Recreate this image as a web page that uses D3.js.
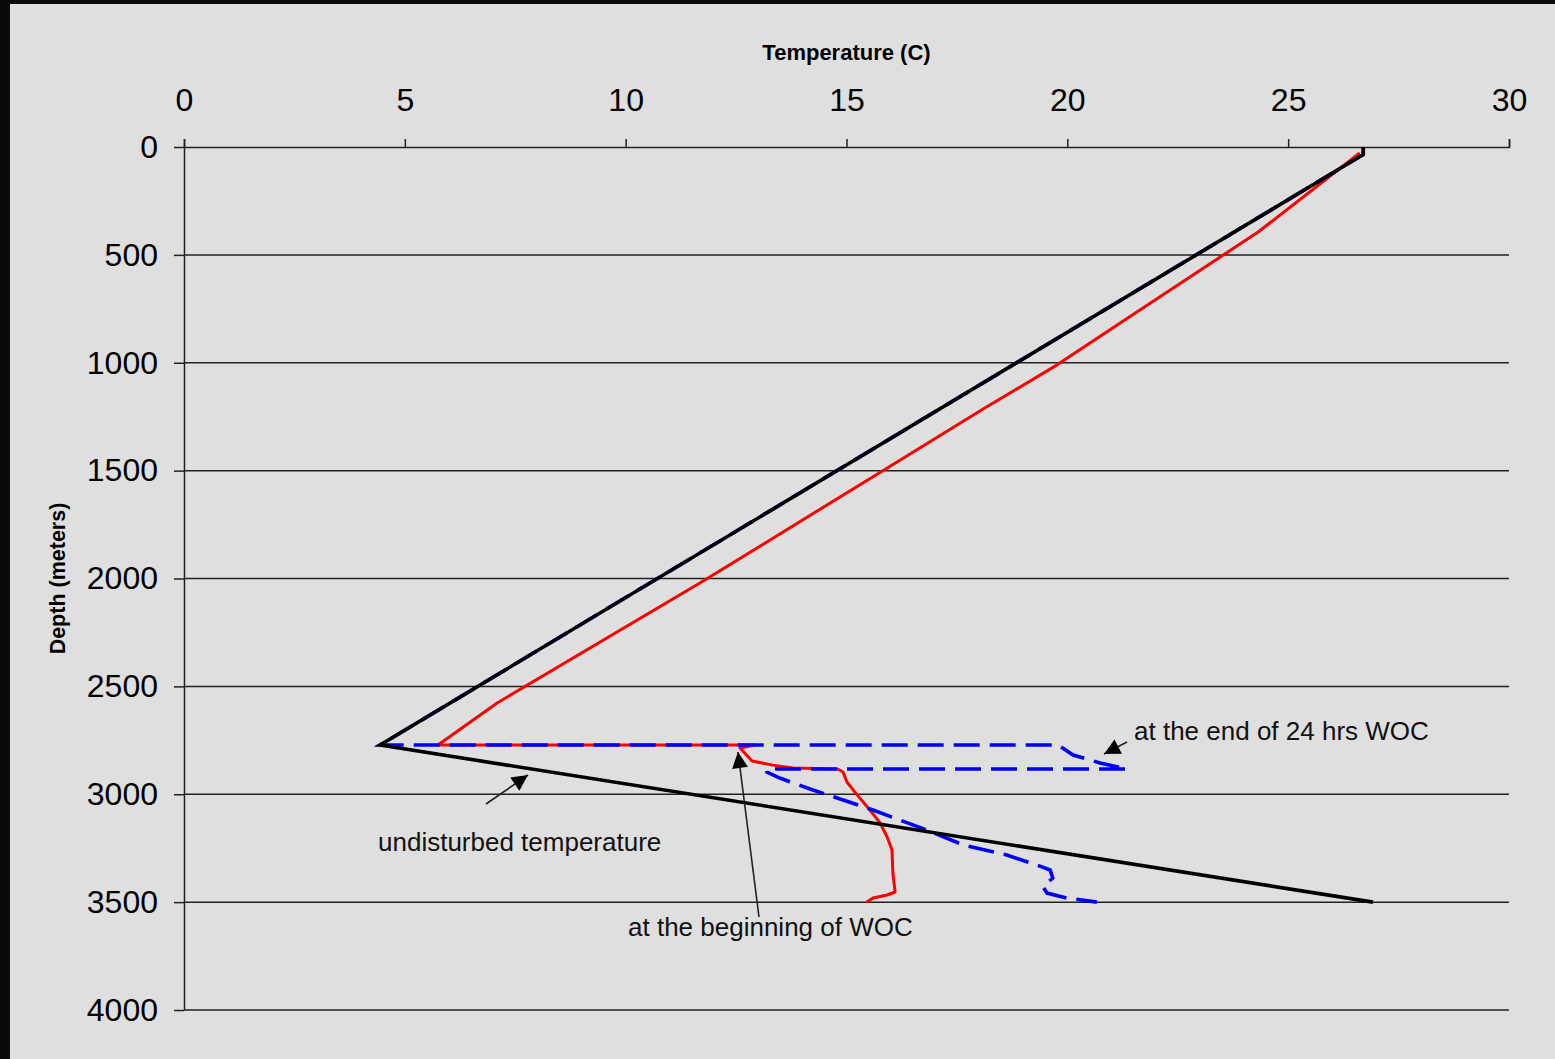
<!DOCTYPE html>
<html>
<head>
<meta charset="utf-8">
<script src="https://cdn.jsdelivr.net/npm/d3@7"></script>
<style>
  html, body { margin: 0; padding: 0; background: #0a0a0a; }
  svg { display: block; }
</style>
</head>
<body>
<script>
// Temperature profiles in a well: undisturbed geotherm, beginning of WOC and after 24 hrs WOC
const xTicks = [0, 5, 10, 15, 20, 25, 30];
const yTicks = [0, 500, 1000, 1500, 2000, 2500, 3000, 3500, 4000];

const undisturbedTemp  = [26.7, 26.7, 4.44, 26.92];
const undisturbedDepth = [0, 35, 2772, 3500];

const beginTemp  = [26.62, 24.32, 21.3, 19.76, 18.13, 15.85, 11.68, 7.09, 5.75, 12.93, 12.59, 12.86, 13.33, 13.79, 14.8, 14.92, 15.01, 15.24, 15.53, 15.76, 15.92, 16.03, 16.05, 16.1, 15.92, 15.6, 15.46];
const beginDepth = [28, 394, 802, 1011, 1210, 1497, 2021, 2577, 2772, 2772, 2786, 2846, 2865, 2878, 2883, 2897, 2943, 3003, 3073, 3133, 3198, 3258, 3365, 3453, 3467, 3481, 3500];

const endTemp  = [26.7, 26.7, 4.44, 19.79, 20.13, 20.74, 21.35, 13.2, 13.2, 13.49, 14.24, 15.6, 16.82, 17.64, 18.63, 19.31, 19.61, 19.67, 19.45, 19.54, 19.99, 20.67];
const endDepth = [0, 35, 2772, 2772, 2818, 2855, 2883, 2883, 2897, 2925, 2980, 3073, 3166, 3235, 3282, 3328, 3351, 3388, 3430, 3458, 3481, 3500];

const W = 1555, H = 1059;
const svg = d3.select("body").append("svg").attr("width", W).attr("height", H);

// panel background with dark frame on the left and top
svg.append("rect").attr("x", 10).attr("y", 4).attr("width", W - 10).attr("height", H - 4).attr("fill", "#dfdfdf");

const x = d3.scaleLinear().domain([0, 30]).range([184, 1509]);
const y = d3.scaleLinear().domain([0, 4000]).range([147, 1010]);

const font = "'Liberation Sans', Arial, sans-serif";

// horizontal grid lines
svg.append("g").selectAll("line").data(yTicks.slice(1)).join("line")
  .attr("x1", x(0)).attr("x2", x(30))
  .attr("y1", d => y(d)).attr("y2", d => y(d))
  .attr("stroke", "#222").attr("stroke-width", 1.5);

// top temperature axis
const gx = svg.append("g").attr("transform", `translate(0,${y(0)})`)
  .call(d3.axisTop(x).tickValues(xTicks).tickSize(8).tickSizeOuter(8).tickPadding(28));
gx.selectAll("path, line").attr("stroke", "#222").attr("stroke-width", 1.5);
gx.selectAll("text").attr("font-family", font).attr("font-size", 32).attr("fill", "#000");

// left depth axis
const gy = svg.append("g").attr("transform", `translate(${x(0)},0)`)
  .call(d3.axisLeft(y).tickValues(yTicks).tickSize(10).tickSizeOuter(0).tickPadding(16).tickFormat(d3.format("d")));
gy.selectAll("path, line").attr("stroke", "#222").attr("stroke-width", 1.5);
gy.selectAll("text").attr("font-family", font).attr("font-size", 32).attr("fill", "#000");

// axis titles
svg.append("text").attr("x", x(15)).attr("y", 60).attr("text-anchor", "middle")
  .attr("font-family", font).attr("font-weight", "bold").attr("font-size", 22).text("Temperature (C)");
svg.append("text").attr("transform", `translate(65,${y(2000)}) rotate(-90)`).attr("text-anchor", "middle")
  .attr("font-family", font).attr("font-weight", "bold").attr("font-size", 21.5).text("Depth (meters)");

const line = d3.line().x(d => x(d[0])).y(d => y(d[1]));
const zipPts = (t, dp) => t.map((v, i) => [v, dp[i]]);

// beginning of WOC
svg.append("path").attr("d", line(zipPts(beginTemp, beginDepth)))
  .attr("fill", "none").attr("stroke", "#ff0000").attr("stroke-width", 3).attr("stroke-linejoin", "round");

// end of 24 hrs WOC
svg.append("path").attr("d", line(zipPts(endTemp, endDepth)))
  .attr("fill", "none").attr("stroke", "#0000ff").attr("stroke-width", 3.6)
  .attr("stroke-dasharray", "26,10");

// undisturbed temperature
svg.append("path").attr("d", line(zipPts(undisturbedTemp, undisturbedDepth)))
  .attr("fill", "none").attr("stroke", "#000").attr("stroke-width", 3.6).attr("stroke-linejoin", "miter");

// annotation arrows
const defs = svg.append("defs");
defs.append("marker").attr("id", "head").attr("viewBox", "0 0 10 10")
  .attr("refX", 10).attr("refY", 5).attr("markerWidth", 20).attr("markerHeight", 16)
  .attr("markerUnits", "userSpaceOnUse").attr("orient", "auto")
  .append("path").attr("d", "M0,0 L10,5 L0,10 Z").attr("fill", "#000");

const arrows = [
  [486, 804, 528, 775],
  [759, 917, 738, 752],
  [1127, 742, 1104, 754]
];
svg.append("g").selectAll("line").data(arrows).join("line")
  .attr("x1", d => d[0]).attr("y1", d => d[1]).attr("x2", d => d[2]).attr("y2", d => d[3])
  .attr("stroke", "#222").attr("stroke-width", 1.6).attr("marker-end", "url(#head)");

const notes = [
  ["undisturbed temperature", 378, 851],
  ["at the beginning of WOC", 628, 936],
  ["at the end of 24 hrs WOC", 1134, 740]
];
svg.append("g").selectAll("text").data(notes).join("text")
  .attr("x", d => d[1]).attr("y", d => d[2])
  .attr("font-family", font).attr("font-size", 26).attr("fill", "#111")
  .text(d => d[0]);
</script>
</body>
</html>
